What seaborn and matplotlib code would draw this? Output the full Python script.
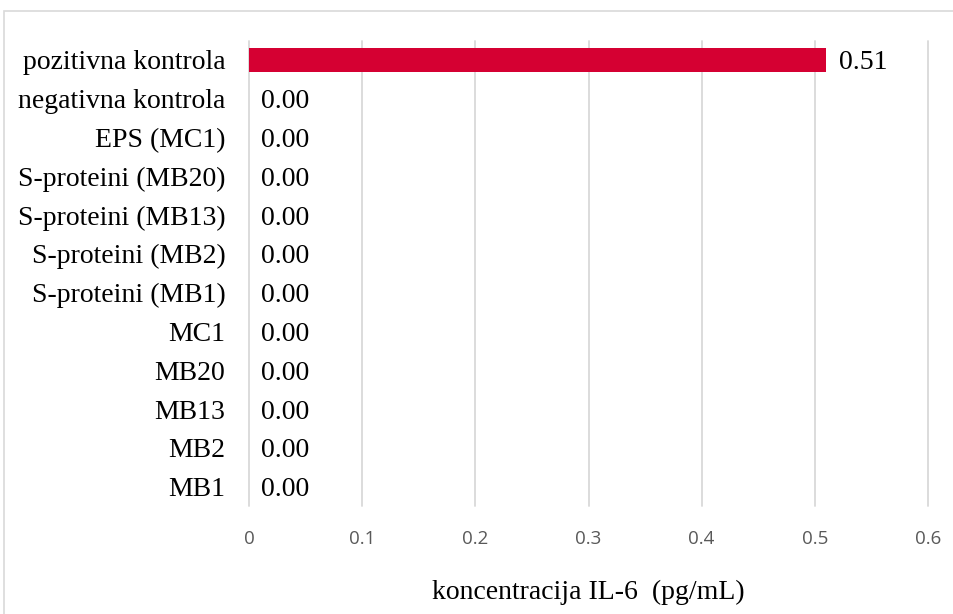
import matplotlib
matplotlib.use("Agg")
import matplotlib.pyplot as plt
import seaborn as sns
import pandas as pd
from matplotlib.patches import Rectangle

categories = ["pozitivna kontrola", "negativna kontrola", "EPS (MC1)",
              "S-proteini (MB20)", "S-proteini (MB13)", "S-proteini (MB2)",
              "S-proteini (MB1)", "MC1", "MB20", "MB13", "MB2", "MB1"]
values = [0.51, 0.0, 0.0, 0.0, 0.0, 0.0, 0.0, 0.0, 0.0, 0.0, 0.0, 0.0]
xticks = [0, 0.1, 0.2, 0.3, 0.4, 0.5, 0.6]
xticklabels = ["0", "0.1", "0.2", "0.3", "0.4", "0.5", "0.6"]

df = pd.DataFrame({"kategorija": categories, "vrijednost": values})

sns.set_style("white")
serif = ["Liberation Serif", "DejaVu Serif"]
sans = ["Open Sans", "DejaVu Sans"]

fig = plt.figure(figsize=(9.54, 6.14), dpi=100)
ax = fig.add_axes([249 / 954, 1 - 506 / 614, (928 - 249) / 954, (506 - 40.5) / 614])

sns.barplot(data=df, x="vrijednost", y="kategorija", orient="h",
            color="#D50032", saturation=1, width=0.62, linewidth=0,
            ax=ax, zorder=3)

ax.set_xlim(0, 0.6)
ax.set_xticks(xticks)
ax.set_xticklabels(xticklabels, fontfamily=sans, fontsize=13.5, color="#595959")
ax.grid(axis="x", color="#D9D9D9", linewidth=1.3, zorder=0)
ax.grid(axis="y", visible=False)
for gl in ax.get_xgridlines():
    gl.set_clip_on(False)
for s in ax.spines.values():
    s.set_visible(False)
ax.tick_params(axis="both", length=0)
ax.tick_params(axis="x", pad=17)
ax.tick_params(axis="y", pad=17)
for lbl in ax.get_yticklabels():
    lbl.set_fontfamily(serif)
    lbl.set_fontsize(20)
    lbl.set_color("black")

texts = ax.bar_label(ax.containers[0], fmt="%.2f", padding=9,
                     fontfamily=serif, fontsize=20, color="black")
for t in texts:
    t.set_verticalalignment("center_baseline")

ax.set_ylabel("")
ax.set_xlabel("koncentracija IL-6  (pg/mL)", fontfamily=serif, fontsize=20,
              color="black", labelpad=23)

fig.patches.append(Rectangle((4 / 954, -0.1), 1.2, 1.1 - 11 / 614,
                             transform=fig.transFigure, fill=False,
                             edgecolor="#D9D9D9", linewidth=1.2))

fig.savefig("out.png", dpi=100)
